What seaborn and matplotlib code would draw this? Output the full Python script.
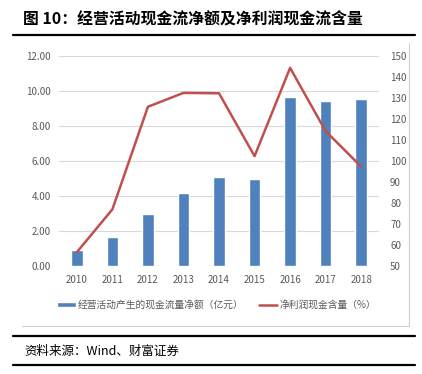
import matplotlib
matplotlib.use("Agg")
import matplotlib.pyplot as plt
from matplotlib.lines import Line2D
from matplotlib.patches import Patch
import numpy as np
import pandas as pd
import seaborn as sns

years = ["2010", "2011", "2012", "2013", "2014", "2015", "2016", "2017", "2018"]
cash_flow = [0.93, 1.69, 2.97, 4.19, 5.10, 4.97, 9.66, 9.41, 9.56]  # 亿元
cash_ratio = [56.7, 77.1, 125.9, 132.5, 132.3, 102.4, 144.4, 114.3, 97.4]  # %

left_ticks = np.arange(0, 12.01, 2)
right_ticks = np.arange(50, 151, 10)

BAR = "#4F81BD"
LINE = "#C0504D"
GREY = "#595959"

sns.set_style("white")
plt.rcParams["font.family"] = ["Noto Sans CJK SC", "DejaVu Sans"]

df = pd.DataFrame({"year": years, "cash": cash_flow, "ratio": cash_ratio})

fig = plt.figure(figsize=(4.22, 3.74), dpi=100)
ax = fig.add_axes([0.140, 0.288, 0.758, 0.562])

sns.barplot(data=df, x="year", y="cash", color=BAR, width=0.32, ax=ax, saturation=1)
ax.set_ylim(0, 12)
ax.set_yticks(left_ticks)
ax.set_yticklabels([f"{v:.2f}" for v in left_ticks])
ax.set_xlim(-0.5, len(years) - 0.5)
ax.grid(axis="y", color="#D9D9D9", linewidth=0.8)
ax.set_axisbelow(True)
ax.set_xlabel("")
ax.set_ylabel("")
for s in ax.spines.values():
    s.set_visible(False)
ax.tick_params(axis="both", length=0, labelsize=7, colors=GREY, pad=6)

ax2 = ax.twinx()
sns.lineplot(x=np.arange(len(years)), y=cash_ratio, color=LINE, linewidth=1.8, ax=ax2)
ax2.set_ylim(50, 150)
ax2.set_yticks(right_ticks)
ax2.set_ylabel("")
for s in ax2.spines.values():
    s.set_visible(False)
ax2.tick_params(axis="y", length=0, labelsize=7, colors=GREY, pad=8)

handles = [
    Patch(facecolor=BAR, label="经营活动产生的现金流量净额（亿元）"),
    Line2D([0], [0], color=LINE, linewidth=1.8, label="净利润现金含量（%）"),
]
leg = fig.legend(handles=handles, loc="center", bbox_to_anchor=(0.513, 0.185), ncol=2,
                 frameon=False, fontsize=7, handlelength=1.9, handleheight=0.45,
                 columnspacing=1.6, handletextpad=0.2)
for t in leg.get_texts():
    t.set_color(GREY)

# chart frame (right and bottom edges visible)
fig.add_artist(Line2D([22 / 422, 409 / 422], [1 - 326 / 374, 1 - 326 / 374], color="#D0D0D0", linewidth=0.8))
fig.add_artist(Line2D([409 / 422, 409 / 422], [1 - 326 / 374, 1 - 43 / 374], color="#D0D0D0", linewidth=0.8))

# title and rules
fig.text(23 / 422, 1 - 19 / 374, "图 10：经营活动现金流净额及净利润现金流含量", fontsize=11.4,
         fontweight="bold", va="center", ha="left", color="black")
for y, lw in [(35, 1.6), (336, 1.6), (365, 1.6)]:
    fig.add_artist(Line2D([13 / 422, 415 / 422], [1 - y / 374, 1 - y / 374], color="black", linewidth=lw))
fig.text(24 / 422, 1 - 351 / 374, "资料来源：Wind、财富证券", fontsize=9, style="italic",
         va="center", ha="left", color="black")

fig.savefig("out.png", dpi=100)
